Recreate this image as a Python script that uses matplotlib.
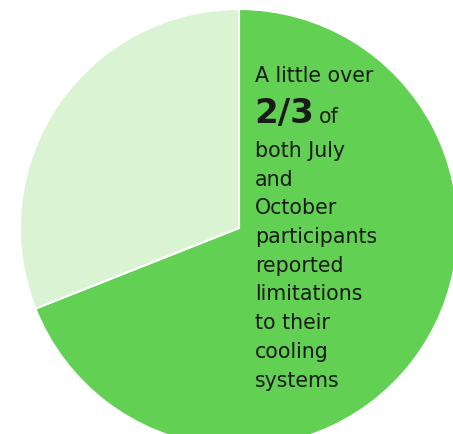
import matplotlib
matplotlib.use("Agg")
import matplotlib.pyplot as plt

# share of participants reporting cooling limitations vs not
shares = [69, 31]
slice_colors = ["#62d052", "#d9f3d3"]

note_top = "A little over"
note_big = "2/3"
note_big_tail = "of"
note_lines = ["both July", "and", "October", "participants", "reported",
              "limitations", "to their", "cooling", "systems"]

W, H = 453, 434
fig = plt.figure(figsize=(W / 100, H / 100), dpi=100)
ax = fig.add_axes([0, 0, 1, 1])

# pie drawn in pixel coords (y flipped, so counterclock=True runs clockwise on screen)
cx, cy, r = 239, 228, 219
ax.pie(shares, colors=slice_colors, center=(cx, cy), radius=r,
       startangle=-90, counterclock=True, frame=True,
       wedgeprops=dict(edgecolor="white", linewidth=1.5))
ax.set_xlim(0, W)
ax.set_ylim(H, 0)
ax.axis("off")

txt = dict(color="#1a1a1a", family="DejaVu Sans", fontsize=14.8)
x0 = 255
ax.text(x0, 82, note_top, va="baseline", **txt)
ax.text(x0 - 1, 123, note_big, va="baseline", color="#1a1a1a",
        family="DejaVu Sans", fontsize=24.5, fontweight="bold")
ax.text(319, 123, note_big_tail, va="baseline", **txt)
for i, line in enumerate(note_lines):
    ax.text(x0, 157 + i * 28.7, line, va="baseline", **txt)

fig.savefig("out.png", dpi=100)
